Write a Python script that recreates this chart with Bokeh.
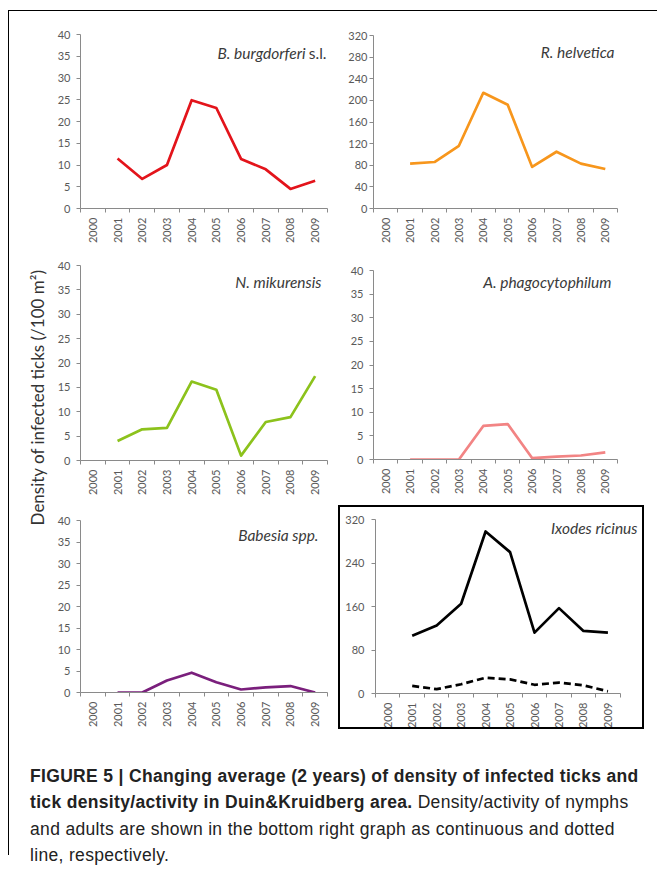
from math import pi
from bokeh.plotting import figure
from bokeh.models import Range1d, FixedTicker, Label, Div
from bokeh.layouts import column, row
from bokeh.embed import file_html
from bokeh.resources import INLINE

# ---------------- data ----------------
years = ["2000", "2001", "2002", "2003", "2004", "2005", "2006", "2007", "2008", "2009"]
data_years = ["2001", "2002", "2003", "2004", "2005", "2006", "2007", "2008", "2009"]
b_burgdorferi = [11.5, 6.8, 10.0, 24.9, 23.1, 11.4, 9.0, 4.5, 6.4]
r_helvetica = [83, 86, 116, 214, 192, 77, 105, 83, 73]
n_mikurensis = [4.0, 6.4, 6.7, 16.2, 14.5, 1.0, 7.9, 8.9, 17.3]
a_phagocytophilum = [0.0, 0.0, 0.0, 7.1, 7.5, 0.3, 0.6, 0.85, 1.5]
babesia = [0.0, 0.0, 2.8, 4.6, 2.4, 0.7, 1.2, 1.5, 0.0]
ixodes_nymphs = [106, 125, 165, 298, 260, 112, 157, 115, 112]
ixodes_adults = [14, 8, 17, 29, 26, 16, 20, 15, 4]

ticks_40 = [0, 5, 10, 15, 20, 25, 30, 35, 40]
ticks_rh = [0, 40, 80, 120, 160, 200, 240, 280, 320]
ticks_ix = [0, 80, 160, 240, 320]

y_label = "Density of infected ticks (/100 m\u00b2)"

AXIS = "#8a8a8a"
TICKTXT = "#595959"
FONT = "Lato"
TITLE_SIZE = "15.5px"

centers = [i + 0.5 for i in range(len(years))]
bounds = list(range(len(years) + 1))
xs = [years.index(y) + 0.5 for y in data_years]


def style_axes(p, ticks, standoff):
    n = len(years)
    p.grid.visible = False
    xa = p.xaxis[0]
    xa.bounds = (0, n)
    xa.ticker = FixedTicker(ticks=centers, minor_ticks=bounds)
    xa.major_label_overrides = {c: y for c, y in zip(centers, years)}
    xa.major_label_orientation = pi / 2
    xa.major_tick_line_color = None
    xa.major_tick_out = 4
    xa.major_tick_in = 0
    xa.minor_tick_line_color = AXIS
    xa.minor_tick_out = 4
    xa.minor_tick_in = 0
    xa.axis_line_color = AXIS
    xa.major_label_standoff = 5
    xa.major_label_text_font = FONT
    xa.major_label_text_font_size = "11px"
    xa.major_label_text_color = TICKTXT
    ya = p.yaxis[0]
    ya.ticker = FixedTicker(ticks=ticks)
    ya.minor_tick_line_color = None
    ya.major_tick_out = 4
    ya.major_tick_in = 0
    ya.major_tick_line_color = AXIS
    ya.axis_line_color = AXIS
    ya.major_label_standoff = standoff
    ya.major_label_text_font = FONT
    ya.major_label_text_font_size = "11px"
    ya.major_label_text_color = TICKTXT


def panel(width, height, left, right, top, bottom, ticks, standoff=6):
    p = figure(width=width, height=height,
               x_range=Range1d(0, len(years)), y_range=Range1d(ticks[0], ticks[-1]),
               toolbar_location=None, output_backend="svg",
               min_border_left=left, min_border_right=right,
               min_border_top=top, min_border_bottom=bottom,
               background_fill_color="white", border_fill_color="white",
               outline_line_color=None)
    style_axes(p, ticks, standoff)
    return p


def title(p, text, dx, dy, suffix=None, suffix_w=0):
    xmax = p.x_range.end
    ymax = p.y_range.end
    if suffix:
        p.add_layout(Label(x=xmax, y=ymax, x_offset=dx, y_offset=-dy, text=suffix,
                           text_align="right", text_baseline="middle",
                           text_font=FONT, text_font_size=TITLE_SIZE, text_color="#3a3a3a"))
    p.add_layout(Label(x=xmax, y=ymax, x_offset=dx - suffix_w, y_offset=-dy, text=text,
                       text_align="right", text_baseline="middle", text_font_style="italic",
                       text_font=FONT, text_font_size=TITLE_SIZE, text_color="#3a3a3a"))


LW = 2.7

# Row 1
p1 = panel(288, 239, 29, 11, 23, 42, ticks_40)
p1.line(xs, b_burgdorferi, line_color="#e3141b", line_width=LW, line_join="round")
title(p1, "B. burgdorferi", -1, 18, suffix="s.l.", suffix_w=21)

p2 = panel(313, 239, 35, 34, 24, 42, ticks_rh, standoff=2)
p2.line(xs, r_helvetica, line_color="#f7961c", line_width=LW, line_join="round")
title(p2, "R. helvetica", -3, 16)

# Row 2
p3 = panel(288, 250, 30, 5, 15, 40, ticks_40)
p3.line(xs, n_mikurensis, line_color="#8cc21c", line_width=LW, line_join="round")
title(p3, "N. mikurensis", -6, 16)

p4 = panel(313, 250, 35, 28, 20, 41, ticks_40)
p4.line(xs, a_phagocytophilum, line_color="#f28484", line_width=LW, line_join="round")
title(p4, "A. phagocytophilum", -6, 11)

# Row 3
p5 = panel(288, 235, 28, 11, 20, 43, ticks_40)
p5.line(xs, babesia, line_color="#7a1f7c", line_width=LW, line_join="round")
title(p5, "Babesia spp.", -9, 14)

# framed Ixodes panel: frame extends right of the x axis to hold the title
p6 = figure(frame_width=259, frame_height=170,
            x_range=Range1d(0, 10.75), y_range=Range1d(ticks_ix[0], ticks_ix[-1]),
            toolbar_location=None, output_backend="svg",
            min_border_left=34, min_border_right=9, min_border_top=12, min_border_bottom=31,
            background_fill_color="white", border_fill_color="white",
            outline_line_color=None,
            styles={"border": "2px solid black"}, margin=(5, 0, 0, 0))
style_axes(p6, ticks_ix, 7)
p6.line(xs, ixodes_nymphs, line_color="black", line_width=LW, line_join="round")
p6.line(xs, ixodes_adults, line_color="black", line_width=LW, line_join="round",
        line_dash="7 4")
title(p6, "Ixodes ricinus", -1, 8)

# y-axis label strip
lab = figure(width=41, height=724, x_range=Range1d(0, 1), y_range=Range1d(0, 1),
             x_axis_type=None, y_axis_type=None, toolbar_location=None,
             output_backend="svg", min_border=0, outline_line_color=None)
lab.grid.visible = False
lab.add_layout(Label(x=0.683, y=0.467, text=y_label, angle=pi / 2,
                     text_align="center", text_baseline="middle",
                     text_font=FONT, text_font_size="17px", text_color="#333333"))

grid = row(lab, column(p1, p3, p5), column(p2, p4, p6))

caption_html = (
    '<div style="padding:28px 0 0 21px; font-family:\'Liberation Sans\',Arial,sans-serif;'
    ' font-size:17.5px; letter-spacing:0.33px; line-height:26.3px; color:#222; white-space:nowrap;">'
    '<b>FIGURE 5 | Changing average (2 years) of density of infected ticks and</b><br>'
    '<b>tick density/activity in Duin&amp;Kruidberg area.</b> Density/activity of nymphs<br>'
    'and adults are shown in the bottom right graph as continuous and dotted<br>'
    'line, respectively.</div>'
)
caption = Div(text=caption_html, width=648, height=120, margin=(0, 0, 0, 0))

root = column(grid, caption, margin=(10, 0, 0, 8),
              styles={"border-top": "1px solid black", "border-left": "1px solid black"})

open("out.html", "w").write(file_html(root, INLINE))
